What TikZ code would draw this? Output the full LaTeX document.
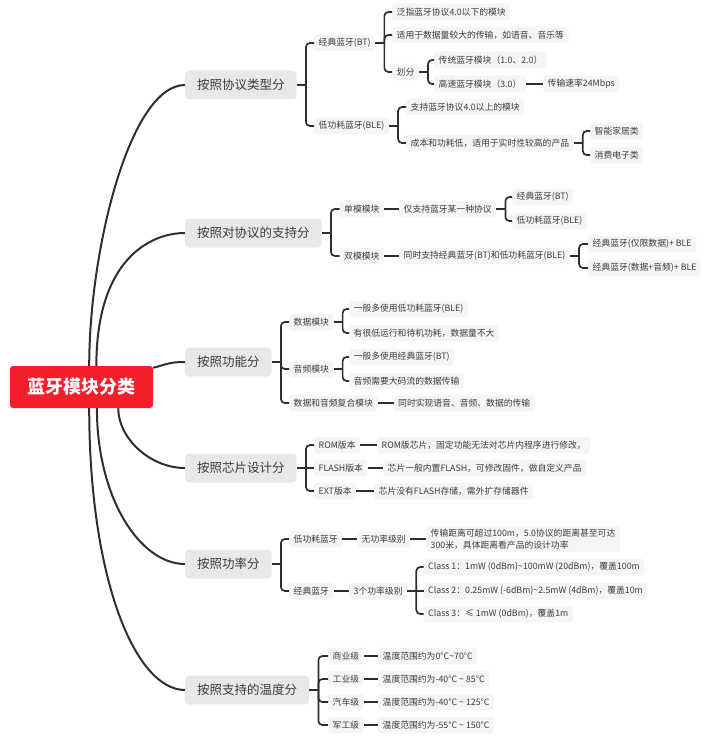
\documentclass[tikz,border=0pt]{standalone}
\usepackage{fontspec}
\setmainfont{Noto Sans CJK SC}

\definecolor{rootred}{HTML}{F71E2C}
\definecolor{topicgray}{HTML}{E8E8E8}
\definecolor{leafgray}{HTML}{F5F5F5}
\definecolor{inkgray}{HTML}{2E2E2E}
\definecolor{textgray}{HTML}{3C3C3C}

\tikzset{
  root/.style={fill=rootred, text=white, rounded corners=3pt, minimum width=143pt, minimum height=42pt, font=\fontsize{18}{20}\selectfont\bfseries},
  topic/.style={fill=topicgray, text=textgray, rounded corners=4pt, anchor=west, minimum height=29pt, inner xsep=12pt, font=\fontsize{12.5}{14}\selectfont},
  leaf/.style={fill=leafgray, text=textgray, rounded corners=3pt, anchor=west, minimum height=16.5pt, inner xsep=4.5pt, inner ysep=1pt, font=\fontsize{8.8}{11.5}\selectfont},
  spoke/.style={draw=inkgray, line width=2pt},
  twig/.style={draw=inkgray, line width=1.7pt, rounded corners=4pt},
}

\begin{document}
\begin{tikzpicture}[x=1pt, y=-1pt]
  \useasboundingbox (0,0) rectangle (720,741);

  \node[root] (root) at (81.5, 387) {蓝牙模块分类};

  \node[topic] (proto) at (185, 85) {按照协议类型分};
  \node[topic] (support) at (185, 233) {按照对协议的支持分};
  \node[topic] (func) at (185, 362) {按照功能分};
  \node[topic] (chip) at (185, 468) {按照芯片设计分};
  \node[topic] (power) at (185, 564) {按照功率分};
  \node[topic] (temp) at (185, 690) {按照支持的温度分};

  \draw[spoke] (root.70) .. controls +(0,-116) and +(-55,0) .. (proto.west);
  \draw[spoke] (root.55) .. controls +(0,-106) and +(-35,0) .. (support.west);
  \draw[spoke] (root.15) .. controls +(15,-4) and +(-15,0) .. (func.west);
  \draw[spoke] (root.330) .. controls +(0,30) and +(-35,0) .. (chip.west);
  \draw[spoke] (root.306) .. controls +(0,90) and +(-45,0) .. (power.west);
  \draw[spoke] (root.290) .. controls +(0,170) and +(-50,0) .. (temp.west);

  \node[leaf] (bt) at (314, 43) {经典蓝牙(BT)};
  \node[leaf] (ble) at (314, 126) {低功耗蓝牙(BLE)};
  \node[leaf] (bt-a) at (392, 12) {泛指蓝牙协议4.0以下的模块};
  \node[leaf] (bt-b) at (392, 35) {适用于数据量较大的传输，如语音、音乐等};
  \node[leaf] (bt-c) at (392, 72) {划分};
  \node[leaf] (classic) at (434, 60) {传统蓝牙模块（1.0、2.0）};
  \node[leaf] (hs) at (434, 84) {高速蓝牙模块（3.0）};
  \node[leaf] (rate) at (543, 84) {传输速率24Mbps};
  \node[leaf] (ble-a) at (406, 107) {支持蓝牙协议4.0以上的模块};
  \node[leaf] (ble-b) at (406, 143) {成本和功耗低，适用于实时性较高的产品};
  \node[leaf] (home) at (590, 131) {智能家居类};
  \node[leaf] (cons) at (590, 155) {消费电子类};

  \draw[twig] (proto.east) -- ++(9,0) coordinate (proto-j);
  \draw[twig] (proto-j) |- (bt.west);
  \draw[twig] (proto-j) |- (ble.west);
  \draw[twig] (bt.east) -- ++(9,0) coordinate (bt-j);
  \draw[twig] (bt-j) |- (bt-a.west);
  \draw[twig] (bt-j) |- (bt-b.west);
  \draw[twig] (bt-j) |- (bt-c.west);
  \draw[twig] (bt-c.east) -- ++(9,0) coordinate (bt-c-j);
  \draw[twig] (bt-c-j) |- (classic.west);
  \draw[twig] (bt-c-j) |- (hs.west);
  \draw[twig] (hs) -- (rate);
  \draw[twig] (ble.east) -- ++(9,0) coordinate (ble-j);
  \draw[twig] (ble-j) |- (ble-a.west);
  \draw[twig] (ble-j) |- (ble-b.west);
  \draw[twig] (ble-b.east) -- ++(9,0) coordinate (ble-b-j);
  \draw[twig] (ble-b-j) |- (home.west);
  \draw[twig] (ble-b-j) |- (cons.west);

  \node[leaf] (single) at (339.5, 209) {单模模块};
  \node[leaf] (single-a) at (399, 209) {仅支持蓝牙某一种协议};
  \node[leaf] (single-bt) at (512, 197) {经典蓝牙(BT)};
  \node[leaf] (single-ble) at (512, 221) {低功耗蓝牙(BLE)};
  \node[leaf] (dual) at (339.5, 256) {双模模块};
  \node[leaf] (dual-a) at (399, 256) {同时支持经典蓝牙(BT)和低功耗蓝牙(BLE)};
  \node[leaf] (dual-d) at (588, 244) {经典蓝牙(仅限数据)+ BLE};
  \node[leaf] (dual-da) at (588, 268) {经典蓝牙(数据+音频)+ BLE};

  \draw[twig] (support.east) -- ++(9,0) coordinate (support-j);
  \draw[twig] (support-j) |- (single.west);
  \draw[twig] (support-j) |- (dual.west);
  \draw[twig] (single) -- (single-a);
  \draw[twig] (single-a.east) -- ++(9,0) coordinate (single-a-j);
  \draw[twig] (single-a-j) |- (single-bt.west);
  \draw[twig] (single-a-j) |- (single-ble.west);
  \draw[twig] (dual) -- (dual-a);
  \draw[twig] (dual-a.east) -- ++(9,0) coordinate (dual-a-j);
  \draw[twig] (dual-a-j) |- (dual-d.west);
  \draw[twig] (dual-a-j) |- (dual-da.west);

  \node[leaf] (data) at (289, 322) {数据模块};
  \node[leaf] (data-a) at (349, 309) {一般多使用低功耗蓝牙(BLE)};
  \node[leaf] (data-b) at (349, 333) {有很低运行和待机功耗，数据量不大};
  \node[leaf] (audio) at (289, 369) {音频模块};
  \node[leaf] (audio-a) at (349, 357) {一般多使用经典蓝牙(BT)};
  \node[leaf] (audio-b) at (349, 381) {音频需要大码流的数据传输};
  \node[leaf] (combo) at (289, 403) {数据和音频复合模块};
  \node[leaf] (combo-a) at (393.5, 403) {同时实现语音、音频、数据的传输};

  \draw[twig] (func.east) -- ++(9,0) coordinate (func-j);
  \draw[twig] (func-j) |- (data.west);
  \draw[twig] (func-j) |- (audio.west);
  \draw[twig] (func-j) |- (combo.west);
  \draw[twig] (data.east) -- ++(9,0) coordinate (data-j);
  \draw[twig] (data-j) |- (data-a.west);
  \draw[twig] (data-j) |- (data-b.west);
  \draw[twig] (audio.east) -- ++(9,0) coordinate (audio-j);
  \draw[twig] (audio-j) |- (audio-a.west);
  \draw[twig] (audio-j) |- (audio-b.west);
  \draw[twig] (combo) -- (combo-a);

  \node[leaf] (rom) at (314, 445) {ROM版本};
  \node[leaf] (rom-a) at (377, 445) {ROM版芯片，固定功能无法对芯片内程序进行修改，};
  \node[leaf] (flash) at (314, 468) {FLASH版本};
  \node[leaf] (flash-a) at (383, 468) {芯片一般内置FLASH，可修改固件，做自定义产品};
  \node[leaf] (ext) at (314, 491) {EXT版本};
  \node[leaf] (ext-a) at (374, 491) {芯片没有FLASH存储，需外扩存储器件};

  \draw[twig] (chip.east) -- ++(9,0) coordinate (chip-j);
  \draw[twig] (chip-j) |- (rom.west);
  \draw[twig] (chip-j) -- (flash.west);
  \draw[twig] (chip-j) |- (ext.west);
  \draw[twig] (rom) -- (rom-a);
  \draw[twig] (flash) -- (flash-a);
  \draw[twig] (ext) -- (ext-a);

  \node[leaf] (pble) at (289, 539) {低功耗蓝牙};
  \node[leaf] (pble-a) at (357, 539) {无功率级别};
  \node[leaf, align=left, inner ysep=3pt] (pble-b) at (426, 539) {传输距离可超过100m，5.0协议的距离甚至可达\\300米，具体距离看产品的设计功率};
  \node[leaf] (pbt) at (289, 591) {经典蓝牙};
  \node[leaf] (pbt-a) at (349, 591) {3个功率级别};
  \node[leaf] (class1) at (423.5, 567) {Class 1：1mW (0dBm)\textasciitilde 100mW (20dBm)，覆盖100m};
  \node[leaf] (class2) at (423.5, 591) {Class 2：0.25mW (-6dBm)\textasciitilde 2.5mW (4dBm)，覆盖10m};
  \node[leaf] (class3) at (423.5, 614) {Class 3：≤ 1mW (0dBm)，覆盖1m};

  \draw[twig] (power.east) -- ++(9,0) coordinate (power-j);
  \draw[twig] (power-j) |- (pble.west);
  \draw[twig] (power-j) |- (pbt.west);
  \draw[twig] (pble) -- (pble-a);
  \draw[twig] (pble-a) -- (pble-b);
  \draw[twig] (pbt) -- (pbt-a);
  \draw[twig] (pbt-a.east) -- ++(9,0) coordinate (pbt-a-j);
  \draw[twig] (pbt-a-j) |- (class1.west);
  \draw[twig] (pbt-a-j) -- (class2.west);
  \draw[twig] (pbt-a-j) |- (class3.west);

  \node[leaf] (com) at (328, 656) {商业级};
  \node[leaf] (com-a) at (378, 656) {温度范围约为0°C\textasciitilde70°C};
  \node[leaf] (ind) at (328, 679) {工业级};
  \node[leaf] (ind-a) at (378, 679) {温度范围约为-40°C \textasciitilde\ 85°C};
  \node[leaf] (car) at (328, 702) {汽车级};
  \node[leaf] (car-a) at (378, 702) {温度范围约为-40°C \textasciitilde\ 125°C};
  \node[leaf] (mil) at (328, 725) {军工级};
  \node[leaf] (mil-a) at (378, 725) {温度范围约为-55°C \textasciitilde\ 150°C};

  \draw[twig] (temp.east) -- ++(9,0) coordinate (temp-j);
  \draw[twig] (temp-j) |- (com.west);
  \draw[twig] (temp-j) |- (ind.west);
  \draw[twig] (temp-j) |- (car.west);
  \draw[twig] (temp-j) |- (mil.west);
  \draw[twig] (com) -- (com-a);
  \draw[twig] (ind) -- (ind-a);
  \draw[twig] (car) -- (car-a);
  \draw[twig] (mil) -- (mil-a);
\end{tikzpicture}
\end{document}
